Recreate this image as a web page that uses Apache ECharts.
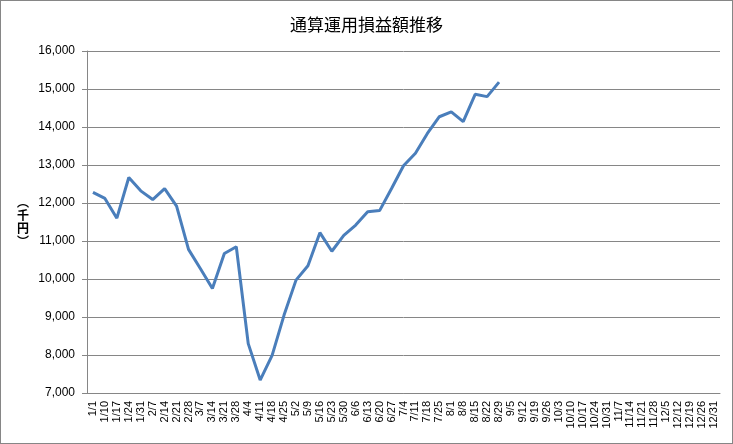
<!DOCTYPE html>
<html><head><meta charset="utf-8">
<script src="https://cdn.jsdelivr.net/npm/echarts@6/dist/echarts.min.js"></script>
<style>html,body{margin:0;padding:0;background:#fff}#c{width:733px;height:444px;box-sizing:border-box;border:1px solid #868686}</style>
</head><body><div id="c"></div>
<script>
const categories = ['1/1','1/10','1/17','1/24','1/31','2/7','2/14','2/21','2/28','3/7','3/14','3/21','3/28','4/4','4/11','4/18','4/25','5/2','5/9','5/16','5/23','5/30','6/6','6/13','6/20','6/27','7/4','7/11','7/18','7/25','8/1','8/8','8/15','8/22','8/29','9/5','9/12','9/19','9/26','10/3','10/10','10/17','10/24','10/31','11/7','11/14','11/21','11/28','12/5','12/12','12/19','12/26','12/31'];
const profit = [12280,12120,11600,12670,12320,12090,12380,11920,10780,10270,9750,10670,10850,8300,7340,7990,9050,9970,10350,11220,10730,11150,11420,11770,11800,12380,12980,13310,13830,14270,14400,14140,14860,14800,15180];
const yTicks = {min:7000, max:16000, interval:1000};
const title = '通算運用損益額推移';
const yName = '︵\n千\n円\n︶';

const chart = echarts.init(document.getElementById('c'));
chart.setOption({
  animation:false,
  title:{text:title,left:'center',top:10,textStyle:{fontFamily:'Noto Sans CJK JP',fontSize:17,fontWeight:'normal',color:'#000'}},
  grid:{left:86,right:12,top:50,bottom:50},
  graphic:[{type:'text',left:16,top:'middle',
    style:{text:yName,font:'bold 12px "Noto Sans CJK JP"',fill:'#000',lineHeight:13,align:'center'}}],
  xAxis:{type:'category',data:categories,boundaryGap:true,
    axisLine:{lineStyle:{color:'#868686'}},
    axisTick:{alignWithLabel:false,interval:0,length:5,lineStyle:{color:'#868686'}},
    axisLabel:{interval:0,rotate:90,margin:8,fontSize:11,fontFamily:'Liberation Sans',color:'#000'}},
  yAxis:{type:'value',min:yTicks.min,max:yTicks.max,interval:yTicks.interval,
    axisLine:{show:true,lineStyle:{color:'#868686'}},
    axisTick:{show:true,length:5,lineStyle:{color:'#868686'}},
    splitLine:{lineStyle:{color:'#868686'}},
    axisLabel:{margin:12,fontSize:12,fontFamily:'Liberation Sans',color:'#000',
      formatter:v=>v.toLocaleString('en-US')}},
  series:[{type:'line',data:profit,showSymbol:false,symbol:'none',
    lineStyle:{color:'#4A7EBB',width:3},itemStyle:{color:'#4A7EBB'}}]
});
</script></body></html>
